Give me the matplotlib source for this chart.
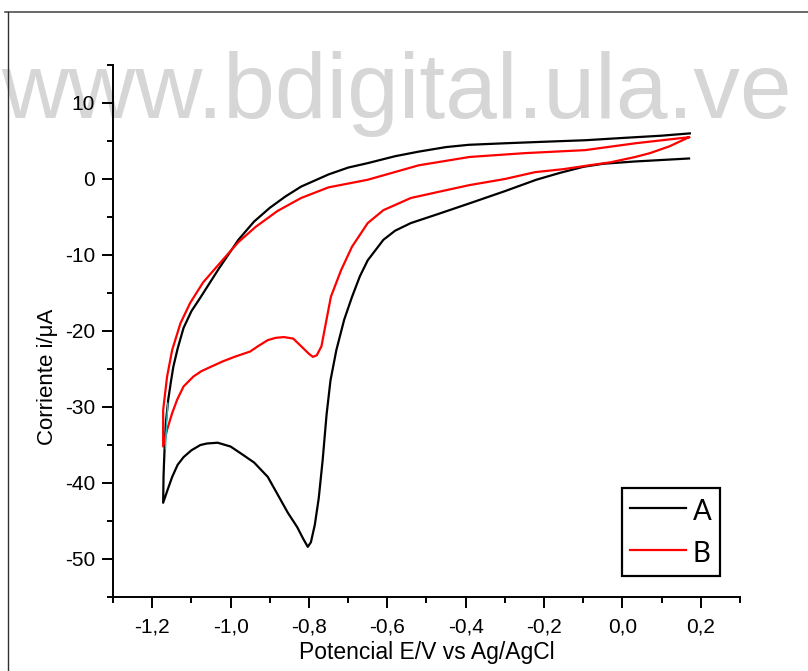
import matplotlib
matplotlib.use("Agg")
import matplotlib.pyplot as plt
from matplotlib.lines import Line2D
from matplotlib.ticker import MultipleLocator, FuncFormatter

# Voltamograma A (barrido catódico y luego anódico)
E_A = [0.17, 0.10, 0.03, -0.05, -0.10, -0.16, -0.22, -0.30, -0.39, -0.47, -0.54, -0.58,
       -0.61, -0.65, -0.67, -0.69, -0.71, -0.73, -0.745, -0.755, -0.765, -0.775, -0.785,
       -0.795, -0.803, -0.815, -0.83, -0.854, -0.88, -0.905, -0.94, -0.974, -1.00, -1.033,
       -1.06, -1.077, -1.10, -1.12, -1.135, -1.149, -1.16, -1.172,
       -1.171, -1.168, -1.165, -1.159, -1.152, -1.146, -1.135, -1.12, -1.10, -1.077, -1.03,
       -0.98, -0.94, -0.90, -0.86, -0.82, -0.75, -0.70, -0.649, -0.58, -0.52, -0.45,
       -0.392, -0.30, -0.20, -0.095, 0.0, 0.10, 0.172]
I_A = [2.7, 2.5, 2.3, 2.0, 1.6, 0.8, -0.1, -1.6, -3.2, -4.6, -5.8, -6.8,
       -8.0, -10.7, -12.8, -15.5, -18.5, -22.5, -26.5, -31.0, -37.0, -42.0, -45.5,
       -47.8, -48.4, -47.3, -45.8, -43.9, -41.5, -39.2, -37.3, -36.1, -35.2, -34.7,
       -34.8, -35.0, -35.7, -36.6, -37.6, -39.2, -40.8, -42.6,
       -39.0, -35.0, -32.0, -29.0, -26.6, -24.7, -22.3, -19.6, -17.4, -15.6, -11.8,
       -8.0, -5.6, -3.8, -2.3, -1.0, 0.6, 1.5, 2.1, 3.0, 3.6, 4.2,
       4.5, 4.7, 4.9, 5.1, 5.4, 5.7, 6.0]

# Voltamograma B
E_B = [0.17, 0.12, 0.07, 0.033, -0.03, -0.085, -0.15, -0.223, -0.30, -0.39, -0.47, -0.54,
       -0.61, -0.65, -0.69, -0.718, -0.744, -0.757, -0.768, -0.78, -0.79, -0.80, -0.82,
       -0.84, -0.864, -0.885, -0.905, -0.93, -0.95, -0.99, -1.02, -1.05, -1.075, -1.095,
       -1.12, -1.136, -1.149, -1.162, -1.172,
       -1.172, -1.162, -1.149, -1.128, -1.103, -1.07, -1.026, -0.98, -0.936, -0.88, -0.82,
       -0.75, -0.65, -0.52, -0.39, -0.25, -0.095, 0.033, 0.17]
I_B = [5.5, 4.3, 3.4, 2.9, 2.2, 1.8, 1.3, 0.9, 0.0, -0.8, -1.7, -2.5,
       -4.1, -5.8, -8.9, -12.0, -15.5, -19.0, -22.0, -23.2, -23.4, -23.0, -22.0,
       -21.0, -20.8, -20.9, -21.2, -22.0, -22.7, -23.4, -24.0, -24.7, -25.3, -26.0,
       -27.3, -29.0, -30.8, -33.0, -35.2,
       -30.4, -26.0, -22.5, -19.0, -16.3, -13.6, -11.0, -8.3, -6.3, -4.2, -2.5,
       -1.1, -0.1, 1.8, 2.9, 3.4, 3.8, 4.7, 5.5]

# pequeño trazo cian visible cerca del vértice
E_C = [-1.166, -1.163, -1.160]
I_C = [-35.5, -32.0, -29.5]

labels = ['A', 'B']

plt.rcParams['font.family'] = ['Liberation Sans', 'DejaVu Sans']
plt.rcParams['axes.unicode_minus'] = False
fig = plt.figure(figsize=(8.08, 6.71), dpi=100)

# marca de agua detrás del gráfico
fig.text(0.002, 0.824, 'www.bdigital.ula.ve', fontsize=67, color='#d6d6d6',
         ha='left', va='baseline', zorder=-5)

# marco de la página
fig.add_artist(Line2D([5 / 808, 1], [1 - 12 / 671, 1 - 12 / 671], color='#505050', lw=1.2))
fig.add_artist(Line2D([8 / 808, 8 / 808], [0, 1 - 12 / 671], color='#303030', lw=1.0))

ax = fig.add_axes([113 / 808, 1 - 597 / 671, 627 / 808, 532 / 671])
ax.patch.set_visible(False)

ax.plot(E_A, I_A, color='black', lw=1.6, label=labels[0])
ax.plot(E_B, I_B, color='#ff0000', lw=1.6, label=labels[1])
ax.plot(E_C, I_C, color='#20c0c0', lw=1.0)

ax.set_xlim(-1.3, 0.3)
ax.set_ylim(-55, 15)
ax.spines['top'].set_visible(False)
ax.spines['right'].set_visible(False)
for s in ['left', 'bottom']:
    ax.spines[s].set_linewidth(1.4)

ax.xaxis.set_major_locator(MultipleLocator(0.2))
ax.xaxis.set_minor_locator(MultipleLocator(0.1))
ax.yaxis.set_major_locator(MultipleLocator(10))
ax.yaxis.set_minor_locator(MultipleLocator(5))
ax.xaxis.set_major_formatter(FuncFormatter(lambda v, p: f'{v:.1f}'.replace('.', ',').replace('-0,0', '0,0')))
ax.yaxis.set_major_formatter(FuncFormatter(lambda v, p: f'{v:.0f}'))
ax.tick_params(which='major', direction='out', length=8, width=1.4, labelsize=15)
ax.tick_params(axis='x', which='major', pad=7)
ax.tick_params(axis='y', which='major', pad=5)
ax.tick_params(which='minor', direction='out', length=4, width=1.4)

ax.set_xlabel('Potencial E/V vs Ag/AgCl', fontsize=16.5, labelpad=3)
ax.set_ylabel('Corriente i/μA', fontsize=16)
ax.yaxis.set_label_coords(-0.088, 0.414)

leg = ax.legend(loc='upper left', bbox_to_anchor=(0.812, 0.205),
                fancybox=False, edgecolor='black', framealpha=1, borderaxespad=0,
                handlelength=2.0, handleheight=1.25, handletextpad=0.25,
                labelspacing=0.45, borderpad=0.3,
                prop={'family': 'Lato', 'size': 20})
leg.get_frame().set_linewidth(1.6)

fig.savefig('out.png', dpi=100)
